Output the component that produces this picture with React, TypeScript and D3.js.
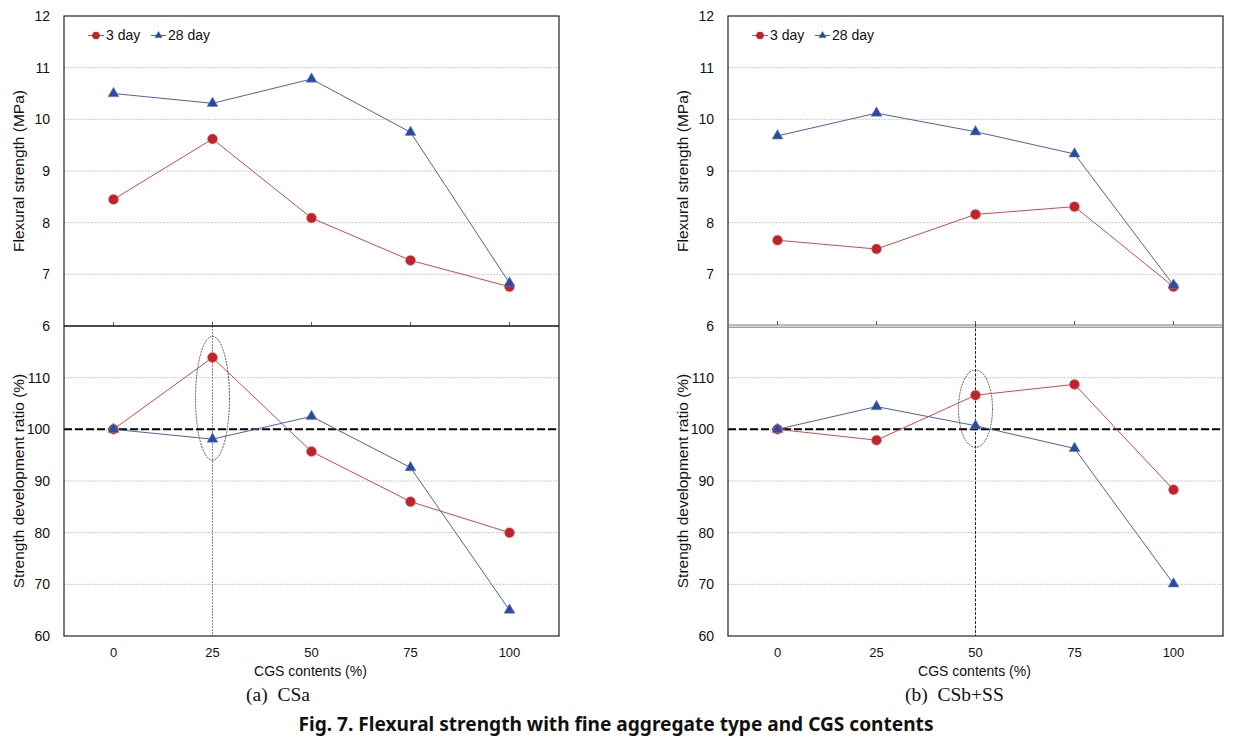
import * as d3 from "d3";

// x categories (CGS contents, %)
const categories = ["0", "25", "50", "75", "100"];

// (a) CSa
const aStrength3 = [8.45, 9.62, 8.09, 7.27, 6.76];
const aStrength28 = [10.5, 10.31, 10.78, 9.75, 6.83];
const aRatio3 = [100, 113.9, 95.7, 86.0, 80.0];
const aRatio28 = [100, 98.1, 102.5, 92.6, 65.0];

// (b) CSb+SS
const bStrength3 = [7.66, 7.49, 8.16, 8.31, 6.76];
const bStrength28 = [9.68, 10.12, 9.76, 9.33, 6.79];
const bRatio3 = [100, 97.9, 106.6, 108.7, 88.3];
const bRatio28 = [100, 104.4, 100.7, 96.3, 70.1];

const strengthTicks = [6, 7, 8, 9, 10, 11, 12];
const ratioTicks = [60, 70, 80, 90, 100, 110];

const FONT = "'Liberation Sans', Arial, sans-serif";
const RED_LINE = "#cc4a4a";
const RED_DOT = "#c1232b";
const BLUE_LINE = "#4a63a8";
const BLUE_MARK = "#2a4c9f";

const TOP = 16;
const MID = 326;
const BOTTOM = 636;
const PLOT_W = 495;

const triangle = d3.symbol().type(d3.symbolTriangle).size(52)();
const smallTriangle = d3.symbol().type(d3.symbolTriangle).size(26)();

function Series({ xs, ys, values, color, markColor, kind }) {
  const line = d3
    .line<number>()
    .x((_, i) => xs(categories[i]))
    .y((d) => ys(d));
  return (
    <g>
      <path d={line(values) || ""} fill="none" stroke={color} strokeWidth={1} />
      {values.map((v, i) =>
        kind === "circle" ? (
          <circle key={i} cx={xs(categories[i])} cy={ys(v)} r={5} fill={markColor} stroke="#e08a8a" strokeWidth={0.5} />
        ) : (
          <path key={i} d={triangle} transform={`translate(${xs(categories[i])},${ys(v)})`} fill={markColor} stroke="#6d86c4" strokeWidth={0.5} />
        )
      )}
    </g>
  );
}

function Panel({ left, s3, s28, r3, r28, mark, markRange, caption, captionX, variant }) {
  const x = d3.scalePoint().domain(categories).range([left, left + PLOT_W]).padding(0.5);
  const yTop = d3.scaleLinear().domain([6, 12]).range([MID, TOP]);
  const yBot = d3.scaleLinear().domain([60, 120]).range([BOTTOM, MID]);
  const right = left + PLOT_W;
  const mx = x(mark);

  return (
    <g fontFamily={FONT} fill="#111">
      {/* grid */}
      {strengthTicks.slice(1, -1).map((t) => (
        <line key={"gt" + t} x1={left} x2={right} y1={yTop(t)} y2={yTop(t)} stroke="#bdbdbd" strokeDasharray="2,1" strokeWidth={0.8} />
      ))}
      {ratioTicks.slice(1).map((t) => (
        <line key={"gb" + t} x1={left} x2={right} y1={yBot(t)} y2={yBot(t)} stroke="#bdbdbd" strokeDasharray="2,1" strokeWidth={0.8} />
      ))}

      {/* highlight line + ellipse */}
      {variant === "a" ? (
        <line x1={mx} x2={mx} y1={MID} y2={BOTTOM} stroke="#888" strokeDasharray="2,1" strokeWidth={1} />
      ) : (
        <line x1={mx} x2={mx} y1={MID - 2} y2={BOTTOM} stroke="#222" strokeDasharray="3,1.5" strokeWidth={1} />
      )}
      <ellipse
        cx={mx}
        cy={(yBot(markRange[0]) + yBot(markRange[1])) / 2}
        rx={17}
        ry={Math.abs(yBot(markRange[0]) - yBot(markRange[1])) / 2}
        fill="none"
        stroke="#444"
        strokeDasharray="2,1"
        strokeWidth={0.9}
      />

      {/* 100 % reference */}
      <line x1={left} x2={right} y1={yBot(100)} y2={yBot(100)} stroke="#000" strokeWidth={2} strokeDasharray="8,3" />

      {/* frame */}
      <rect x={left} y={TOP} width={PLOT_W} height={BOTTOM - TOP} fill="none" stroke="#222" strokeWidth={1.2} />
      {variant === "a" ? (
        <line x1={left} x2={right} y1={MID} y2={MID} stroke="#111" strokeWidth={1.4} />
      ) : (
        <g stroke="#777" strokeWidth={1}>
          <line x1={left} x2={right} y1={MID - 1} y2={MID - 1} />
          <line x1={left} x2={right} y1={MID + 1.2} y2={MID + 1.2} />
        </g>
      )}
      {categories.map((c) => (
        <line key={"tk" + c} x1={x(c)} x2={x(c)} y1={MID - (variant === "a" ? 4 : 5)} y2={MID - (variant === "a" ? 0 : 1)} stroke="#333" strokeWidth={0.8} />
      ))}

      {/* data */}
      <Series xs={x} ys={yTop} values={s3} color={RED_LINE} markColor={RED_DOT} kind="circle" />
      <Series xs={x} ys={yTop} values={s28} color={BLUE_LINE} markColor={BLUE_MARK} kind="tri" />
      <Series xs={x} ys={yBot} values={r3} color={RED_LINE} markColor={RED_DOT} kind="circle" />
      <Series xs={x} ys={yBot} values={r28} color={BLUE_LINE} markColor={BLUE_MARK} kind="tri" />

      {/* y ticks */}
      {strengthTicks.map((t) => (
        <text key={"ly" + t} x={left - 14} y={yTop(t)} dy="0.35em" textAnchor="end" fontSize={14}>
          {t}
        </text>
      ))}
      {ratioTicks.map((t) => (
        <text key={"lr" + t} x={left - 14} y={yBot(t)} dy="0.35em" textAnchor="end" fontSize={14}>
          {t}
        </text>
      ))}
      {/* x ticks */}
      {categories.map((c) => (
        <text key={"lx" + c} x={x(c)} y={652} dy="0.35em" textAnchor="middle" fontSize={13}>
          {c}
        </text>
      ))}

      {/* axis titles */}
      <text transform={`translate(${left - 45},${(TOP + MID) / 2}) rotate(-90)`} dy="0.35em" textAnchor="middle" fontSize={15.5}>
        Flexural strength (MPa)
      </text>
      <text transform={`translate(${left - 45},${(MID + BOTTOM) / 2}) rotate(-90)`} dy="0.35em" textAnchor="middle" fontSize={15.5}>
        Strength development ratio (%)
      </text>
      <text x={left + PLOT_W / 2 - 1} y={676} textAnchor="middle" fontSize={14}>
        CGS contents (%)
      </text>
      <text x={captionX} y={701} fontFamily="'Liberation Serif', 'Times New Roman', serif" fontSize={19.5} xmlSpace="preserve">
        {caption}
      </text>

      {/* legend */}
      <g transform={`translate(${left + 24},35.5)`}>
        <line x1={0} x2={16} y1={0} y2={0} stroke={RED_LINE} strokeWidth={1} />
        <circle cx={8} cy={0} r={3.8} fill={RED_DOT} />
        <text x={18} y={0} dy="0.35em" fontSize={14}>3 day</text>
        <line x1={63} x2={78} y1={0} y2={0} stroke={BLUE_LINE} strokeWidth={1} />
        <path d={smallTriangle} transform="translate(70.5,0)" fill={BLUE_MARK} />
        <text x={80} y={0} dy="0.35em" fontSize={14}>28 day</text>
      </g>
    </g>
  );
}

export default function App() {
  return (
    <svg width={1243} height={745} style={{ position: "absolute", left: 0, top: 0, background: "#fff" }}>
      <rect width={1243} height={745} fill="#fff" />
      <Panel
        left={64}
        s3={aStrength3}
        s28={aStrength28}
        r3={aRatio3}
        r28={aRatio28}
        mark="25"
        markRange={[94, 118]}
        caption="(a)  CSa"
        captionX={246}
        variant="a"
      />
      <Panel
        left={728}
        s3={bStrength3}
        s28={bStrength28}
        r3={bRatio3}
        r28={bRatio28}
        mark="50"
        markRange={[96.5, 111.5]}
        caption="(b)  CSb+SS"
        captionX={905}
        variant="b"
      />
      <text
        x={616}
        y={731}
        textAnchor="middle"
        fontFamily="'Noto Sans', 'DejaVu Sans', sans-serif"
        fontWeight="bold"
        fontSize={19}
        textLength={635}
        lengthAdjust="spacingAndGlyphs"
        fill="#111"
      >
        Fig. 7. Flexural strength with fine aggregate type and CGS contents
      </text>
    </svg>
  );
}
